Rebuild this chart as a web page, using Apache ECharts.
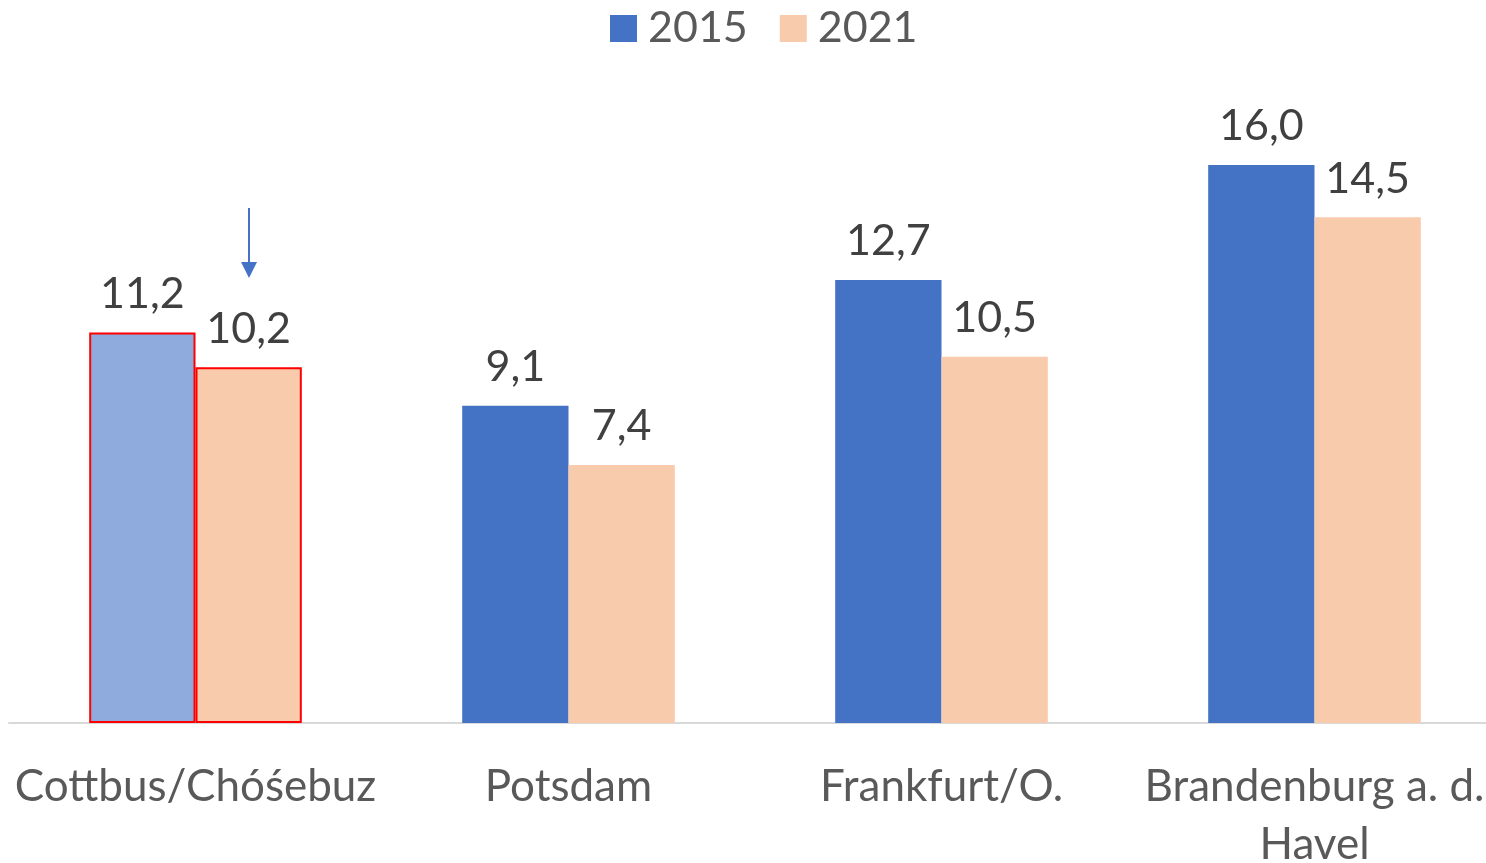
<!DOCTYPE html>
<html>
<head>
<meta charset="utf-8">
<script src="https://cdn.jsdelivr.net/npm/echarts@6/dist/echarts.min.js"></script>
<style>
    html, body { margin: 0; padding: 0; background: #fff; }
    #chart { width: 1486px; height: 863px; }
</style>
</head>
<body>
<div id="chart"></div>
<script>
const categories = ["Cottbus/Chóśebuz", "Potsdam", "Frankfurt/O.", "Brandenburg a. d.\nHavel"];
const values2015 = [11.2, 9.1, 12.7, 16.0];
const values2021 = [10.2, 7.4, 10.5, 14.5];

const FONT = "Lato";

// first city is highlighted (lighter fill + red frame)
function toData(values, normalColor, highlightColor) {
    return values.map((v, i) => {
        if (i === 0) {
            return {
                value: v,
                itemStyle: { color: highlightColor, borderColor: "#FF0000", borderWidth: 2 }
            };
        }
        return { value: v, itemStyle: { color: normalColor } };
    });
}

const labelStyle = {
    show: true,
    position: "top",
    distance: 17,
    color: "#404040",
    fontSize: 43,
    fontFamily: FONT,
    formatter: p => p.value.toFixed(1).replace(".", ",")
};

const myChart = echarts.init(document.getElementById("chart"));
myChart.setOption({
    animation: false,
    legend: {
        top: 2,
        left: 605,
        itemWidth: 27,
        itemHeight: 27,
        itemGap: 32,
        icon: "rect",
        textStyle: { fontSize: 43, fontFamily: FONT, color: "#595959", padding: [0, 0, 0, 6] },
        data: ["2015", "2021"]
    },
    grid: { left: 9, top: 165, width: 1492, height: 558, outerBoundsMode: "none", containLabel: false },
    xAxis: {
        type: "category",
        data: categories,
        axisLine: { lineStyle: { color: "#D9D9D9", width: 2 } },
        axisTick: { show: false },
        axisLabel: {
            margin: 35,
            fontSize: 44,
            lineHeight: 58,
            fontFamily: FONT,
            color: "#595959",
            interval: 0
        }
    },
    yAxis: {
        type: "value",
        min: 0,
        max: 16,
        show: false,
        splitLine: { show: false }
    },
    series: [
        {
            name: "2015",
            type: "bar",
            barGap: "0%",
            barCategoryGap: "43%",
            itemStyle: { color: "#4472C4" },
            label: labelStyle,
            data: toData(values2015, "#4472C4", "#8FAADC")
        },
        {
            name: "2021",
            type: "bar",
            itemStyle: { color: "#F8CBAD" },
            label: labelStyle,
            data: toData(values2021, "#F8CBAD", "#F8CBAD")
        }
    ],
    graphic: [
        {
            type: "line",
            shape: { x1: 249, y1: 208, x2: 249, y2: 264 },
            style: { stroke: "#4472C4", lineWidth: 2 }
        },
        {
            type: "polygon",
            shape: { points: [[241, 262], [257, 262], [249, 278]] },
            style: { fill: "#4472C4" }
        }
    ]
});
</script>
</body>
</html>
